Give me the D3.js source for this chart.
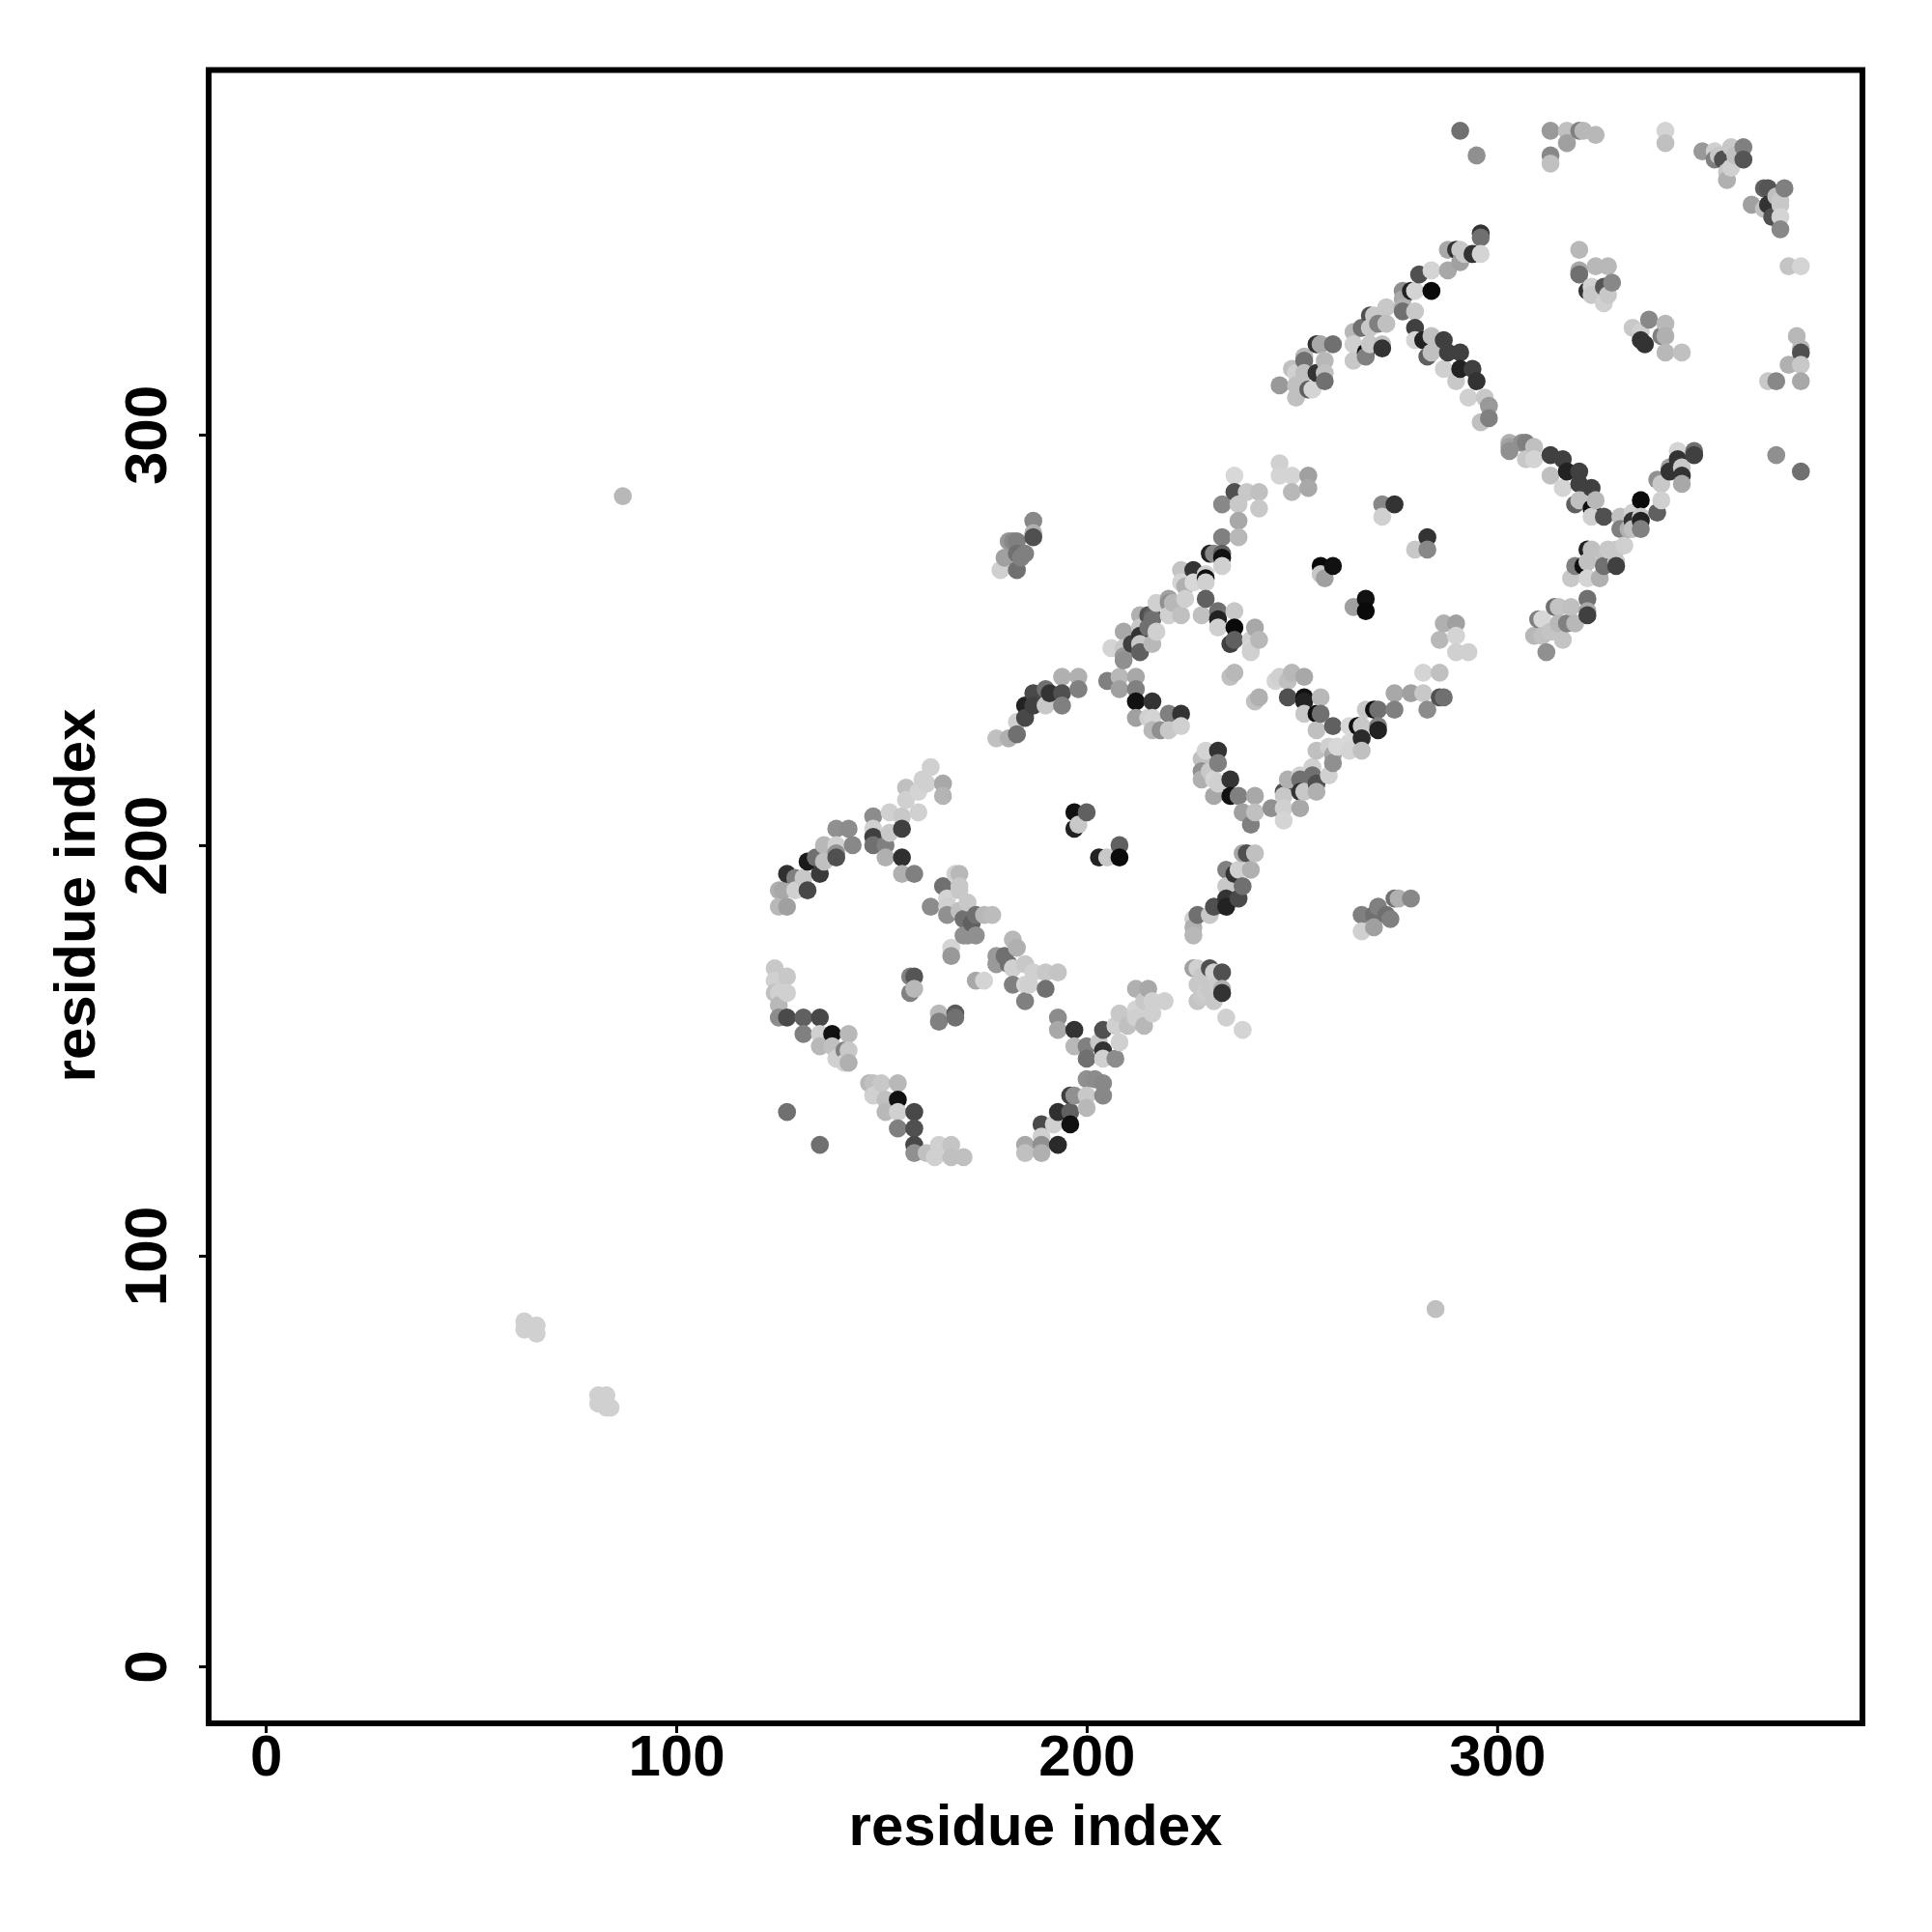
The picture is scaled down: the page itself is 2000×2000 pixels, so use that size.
<!DOCTYPE html>
<html><head><meta charset="utf-8">
<script src="https://cdn.jsdelivr.net/npm/d3@7"></script>
<style>html,body{margin:0;background:#fff}svg{display:block}text{font-family:"Liberation Sans",Arial,sans-serif;font-weight:700;fill:#000}</style>
</head><body><svg id="c" width="2000" height="2000"></svg>
<script>
// each contact: [residue index x, residue index y, grey level]
const xTicks=[0,100,200,300], yTicks=[0,100,200,300];
const xTitle="residue index", yTitle="residue index";
const arcUpperLeft=[[125,185,184],[127,185,160],[125,189,176],[126,189,168],[129,189,208],[132,189,72],[127,193,48],[129,192,128],[131,192,200],[135,193,58],[132,196,26],[134,197,112],[136,196,192],[136,200,184],[139,197,80],[139,198,144],[139,200,208],[139,204,144],[142,204,140],[143,200,136],[148,207,140],[148,204,208],[148,202,64],[148,200,112],[151,200,128],[151,197,176],[155,197,48],[155,193,176],[158,193,128],[152,208,208],[152,203,200],[155,204,64],[155,207,200],[159,208,208],[156,211,208],[156,214,192],[159,213,212],[160,216,208],[161,215,208],[162,219,208],[165,215,168],[165,212,180]];
const clusterLeft=[[124,170,200],[124,167,208],[127,168,200],[124,164,192],[125,164,208],[127,164,208],[125,161,184],[125,158,140],[127,158,74],[131,158,96],[135,158,72],[131,154,128],[135,154,208],[138,154,17],[142,154,184],[135,151,184],[138,151,192],[141,150,128],[142,150,200],[139,148,208],[142,147,176],[141,147,208]];
const arcLowerLeft=[[147,142,184],[148,142,192],[150,142,200],[154,142,184],[148,139,208],[151,138,192],[154,138,17],[151,135,184],[154,135,208],[158,135,72],[154,131,128],[158,131,80],[158,127,72],[158,125,144],[161,125,192],[164,127,208],[163,124,208],[167,127,196],[167,124,192],[170,124,192],[127,135,112],[135,127,112]];
const arcLowerRight=[[185,127,168],[185,125,192],[189,125,176],[189,127,144],[189,129,208],[189,132,74],[192,132,208],[193,127,42],[196,132,17],[193,135,48],[196,135,96],[200,136,184],[196,139,64],[197,139,144],[200,139,200],[204,142,136],[204,139,136],[200,143,144],[202,143,140],[193,158,140],[193,155,168],[197,155,51],[197,151,184],[200,151,128],[200,148,112],[204,155,80],[204,150,51],[203,152,200],[204,148,208],[207,148,140],[208,152,208],[208,159,200],[207,156,208],[210,156,192],[212,160,212],[214,156,184],[212,165,176],[215,165,168],[214,162,200],[216,162,208],[219,162,208],[212,158,208],[216,159,208]];
const blackPairs=[[197,208,17],[200,208,96],[198,205,200],[197,204,34],[203,197,34],[205,197,200],[208,200,96],[208,197,10],[257,268,10],[260,268,17],[258,265,160],[257,266,200],[268,260,17],[268,257,10],[265,258,160],[272,283,136],[275,283,51],[272,280,208],[283,275,51],[283,272,136],[280,272,200]];
const clusterSquare=[[226,170,160],[227,170,208],[230,170,80],[231,169,208],[233,169,80],[233,165,176],[227,166,200],[230,165,200],[227,162,196],[231,162,200],[233,164,51],[234,158,208],[238,155,212],[228,168,200],[229,164,204],[232,166,204],[228,163,200]];
const clusterUpper=[[187,279,136],[187,275,80],[187,276,176],[181,274,153],[183,274,128],[180,270,160],[185,271,128],[183,271,112],[179,267,208],[183,267,112],[182,274,136],[184,270,128]];
const chainMid=[[178,226,192],[181,226,176],[183,227,112],[183,230,208],[185,231,72],[185,234,34],[187,234,64],[187,237,74],[190,234,200],[190,238,112],[191,237,51],[194,234,128],[194,237,80],[194,241,176],[198,241,176],[198,238,128]];
const clusterMid=[[205,240,128],[208,241,184],[208,238,160],[212,241,168],[212,238,128],[212,235,17],[216,235,51],[212,231,160],[215,231,208],[216,231,212],[218,228,144],[220,232,128],[223,232,51],[216,228,184],[220,228,200],[223,229,208]];
const chainRising=[[209,252,168],[213,256,176],[216,256,96],[215,256,80],[215,253,112],[216,255,112],[217,259,208],[220,260,160],[220,259,144],[221,259,184],[220,256,208],[223,256,192],[224,260,208],[224,263,176],[223,267,196],[223,264,212],[226,264,216],[229,264,208],[226,267,51],[229,266,208],[229,265,17],[233,268,208],[233,270,17],[230,271,34],[231,271,136],[233,271,96],[233,275,128],[237,275,184],[237,279,168],[233,283,136],[237,283,200],[236,286,80],[239,286,200],[242,286,192],[242,282,200],[236,290,216],[206,248,212],[209,248,200],[209,245,144],[209,246,153],[211,249,64],[213,249,200],[213,247,96],[213,251,51],[213,253,200],[216,249,184],[217,252,208]];
const chainFalling=[[229,260,96],[228,256,192],[232,257,112],[232,255,34],[236,257,200],[236,253,10],[232,253,208],[235,249,64],[236,250,96],[241,253,168],[242,250,184],[240,250,208],[240,248,212],[240,247,208],[236,242,184],[235,241,192],[242,236,176],[241,235,192],[247,293,208],[247,290,212],[250,290,212],[254,290,160],[254,287,168],[250,286,184]];
const diagonalMid=[[247,241,208],[246,240,212],[250,242,184],[253,241,168],[249,240,192],[249,236,80],[253,236,17],[253,235,34],[257,236,184],[256,232,17],[257,232,112],[253,232,200],[260,229,96],[256,228,192],[264,229,216],[264,225,216],[264,223,212],[268,233,200],[270,233,17],[271,233,112],[275,233,128],[275,237,168],[279,237,160],[282,242,212],[286,242,192],[282,237,200],[283,233,140],[286,236,80],[287,236,112],[266,229,17],[267,229,200],[271,229,128],[271,228,34],[267,226,42],[267,223,192],[259,224,208],[261,224,216],[256,223,192],[260,222,168],[260,220,144],[259,217,208],[255,219,208],[255,217,112],[256,215,80],[252,216,112],[256,213,176],[252,213,51],[253,213,200],[249,216,176],[252,217,208],[248,213,80],[248,212,200],[252,209,168],[248,209,208],[248,206,212],[245,209,144]];
const uShape=[[232,223,51],[229,223,212],[228,221,192],[232,220,128],[228,218,144],[228,216,176],[230,218,200],[231,216,212],[232,215,208],[235,216,51],[231,212,168],[235,212,17],[237,212,128],[241,212,168],[241,208,192],[238,208,160],[240,205,128]];
const chainLower=[[238,198,168],[239,198,80],[241,198,192],[240,194,176],[234,194,128],[236,193,51],[237,194,208],[238,190,112],[234,190,200],[237,187,74],[234,187,51],[234,185,34],[231,185,80],[230,183,200],[227,183,112],[226,182,208],[226,178,184],[226,180,176]];
const clusterLowerRight=[[279,187,136],[276,187,176],[275,187,112],[271,185,128],[274,182,128],[267,183,128],[270,180,160],[267,179,208],[273,183,112],[270,183,112]];
const clusterCentre=[[169,193,184],[168,193,208],[165,190,112],[169,189,200],[169,190,200],[162,185,140],[166,187,212],[166,185,208],[166,183,144],[171,186,200],[169,184,192],[173,183,112],[175,183,184],[177,183,188],[170,178,144],[173,178,144],[171,178,144],[170,182,112],[172,181,96],[167,175,212],[167,173,153],[158,168,85],[157,168,128],[158,165,184],[157,164,128],[164,159,184],[164,157,128],[168,159,90],[168,158,112],[173,167,168],[175,167,212],[178,173,153],[178,171,153],[182,177,184],[183,175,176],[180,173,112],[181,171,112],[182,170,208],[185,171,200],[187,169,208],[190,169,200],[193,169,196],[182,166,128],[185,166,212],[186,166,208],[190,165,112],[185,162,128]];
const groupTop=[[291,374,112],[295,368,144],[313,374,153],[317,374,192],[320,374,128],[321,374,184],[324,373,184],[317,371,160],[313,368,136],[313,366,192],[341,374,212],[341,371,192],[350,369,153],[353,369,208],[353,367,128],[354,368,200],[360,370,128],[360,367,85],[357,370,200],[356,362,176],[357,365,208],[355,367,80],[358,368,192],[356,364,200],[366,360,85],[370,360,128],[362,356,160],[365,360,96],[369,357,200],[366,356,51],[365,355,192],[369,353,212],[367,353,80],[369,350,136],[371,341,196],[374,341,212],[369,356,200],[368,358,192]];
const groupRight=[[320,345,184],[320,340,168],[320,339,112],[324,341,184],[327,341,184],[328,337,136],[322,335,51],[323,336,208],[323,334,200],[327,334,200],[326,332,208],[326,336,85],[333,326,200],[336,322,51],[335,323,51],[335,325,208],[337,328,136],[341,327,184],[340,324,128],[341,324,176],[341,320,184],[345,320,192],[373,324,184],[374,320,80],[374,321,184],[374,317,200],[371,317,176],[374,313,168],[366,313,200],[368,313,136],[368,295,144],[374,291,112]];
const chainTopRising=[[247,312,153],[250,316,192],[251,315,208],[253,319,184],[253,318,112],[253,315,192],[251,312,192],[251,309,192],[254,311,96],[255,311,212],[256,315,51],[258,318,184],[258,315,192],[258,313,112],[256,322,51],[257,322,168],[260,322,112],[265,325,184],[265,322,208],[265,318,200],[267,326,112],[269,329,80],[270,329,200],[269,326,200],[268,320,17],[268,319,128],[269,322,200],[272,322,192],[272,321,51],[271,327,128],[273,331,200],[273,327,192],[277,335,144],[277,333,168],[277,331,176],[277,330,112],[281,339,80],[279,335,34],[280,335,212],[284,335,10],[280,330,200],[284,340,212],[288,345,168],[288,340,168],[290,345,51],[291,345,200],[291,342,160],[292,344,200],[294,344,51],[296,344,212],[296,349,51],[296,348,112]];
const chainTopFalling=[[280,326,64],[280,323,212],[282,323,34],[284,324,192],[283,319,96],[284,320,192],[287,323,64],[288,320,64],[291,320,64],[291,316,34],[287,316,208],[294,316,64],[295,313,51],[290,313,200],[293,309,208],[297,309,200],[298,307,153],[298,304,128],[296,303,192]];
const chainSecond=[[303,298,176],[303,297,160],[303,296,144],[306,298,144],[307,298,128],[309,297,192],[309,294,212],[307,294,200],[313,295,64],[316,294,64],[317,291,34],[320,291,64],[313,290,192],[320,288,64],[323,287,64],[316,287,212],[320,284,192],[324,284,184],[319,283,96],[323,282,17],[323,280,208],[326,280,80],[330,280,192],[330,277,128],[332,277,176],[333,277,192],[335,277,128],[335,284,10],[335,280,200],[335,279,34],[333,281,208],[333,279,51],[339,281,96],[340,284,208],[340,288,200],[339,289,144],[342,292,160],[342,291,51],[345,288,168],[345,292,200],[345,290,51],[344,296,212],[344,294,51],[348,296,112],[348,295,64]];
const clusterSecond=[[322,272,34],[323,272,192],[322,269,192],[321,268,17],[319,268,128],[326,269,192],[326,268,112],[329,269,200],[329,268,64],[327,272,200],[329,272,200],[331,273,208],[318,265,200],[322,265,212],[325,265,176],[322,260,112],[322,257,168],[322,256,64],[319,254,184],[318,258,192],[315,258,196],[314,258,112],[311,255,216],[310,255,128],[309,251,184],[311,251,192],[316,250,196],[315,254,184],[317,254,128],[312,247,144],[313,252,196],[287,254,176],[290,254,160],[286,250,184],[290,251,212],[290,247,208],[293,247,208]];
const strays=[[87,285,184],[63,84,208],[64,83,208],[65,82,208],[66,81,208],[63,82,208],[66,83,208],[81,66,208],[82,65,208],[83,63,208],[81,64,208],[84,63,208],[83,66,208],[285,87,192]];

const contacts=d3.sort([].concat(arcUpperLeft,clusterCentre,clusterLeft,arcLowerLeft,arcLowerRight,blackPairs,clusterSquare,clusterUpper,chainMid,clusterMid,chainRising,chainFalling,diagonalMid,uShape,chainLower,clusterLowerRight,groupTop,groupRight,chainTopRising,chainTopFalling,chainSecond,clusterSecond,strays),(a,b)=>d3.ascending(a[0],b[0])||d3.descending(a[1],b[1]));

const box={l:216,r:1928,t:72.5,b:1784};
const x=d3.scaleLinear().domain([-13.9,389]).range([box.l,box.r]);
const y=d3.scaleLinear().domain([-13.9,388.8]).range([box.b,box.t]);
const svg=d3.select("#c");
svg.append("g").selectAll("circle").data(contacts).join("circle")
  .attr("cx",d=>x(d[0])).attr("cy",d=>y(d[1])).attr("r",9.3)
  .attr("fill",d=>d3.rgb(d[2],d[2],d[2]).formatHex());
const ax=svg.append("g").attr("transform",`translate(0,${box.b})`).call(d3.axisBottom(x).tickValues(xTicks).tickSize(10).tickPadding(0).tickFormat(d3.format("d")));
ax.select(".domain").remove();
ax.selectAll("line").attr("stroke","#000").attr("stroke-width",3);
ax.selectAll("text").attr("y",54).attr("dy",0).attr("font-size",60).attr("fill","#000");
const ay=svg.append("g").attr("transform",`translate(${box.l},0)`).call(d3.axisLeft(y).tickValues(yTicks).tickSize(10).tickFormat(d3.format("d")));
ay.select(".domain").remove();
ay.selectAll("line").attr("stroke","#000").attr("stroke-width",3);
ay.selectAll("text").attr("x",null).attr("dy",0).attr("font-size",62).attr("text-anchor","middle").attr("fill","#000")
  .attr("transform",`translate(-44,0) rotate(-90)`);
svg.append("rect").attr("x",box.l).attr("y",box.t).attr("width",box.r-box.l).attr("height",box.b-box.t).attr("fill","none").attr("stroke","#000").attr("stroke-width",6);
svg.append("text").attr("x",1072).attr("y",1910).attr("text-anchor","middle").attr("font-size",60).text(xTitle);
svg.append("text").attr("transform","translate(98,927) rotate(-90)").attr("text-anchor","middle").attr("font-size",60).text(yTitle);
</script></body></html>
